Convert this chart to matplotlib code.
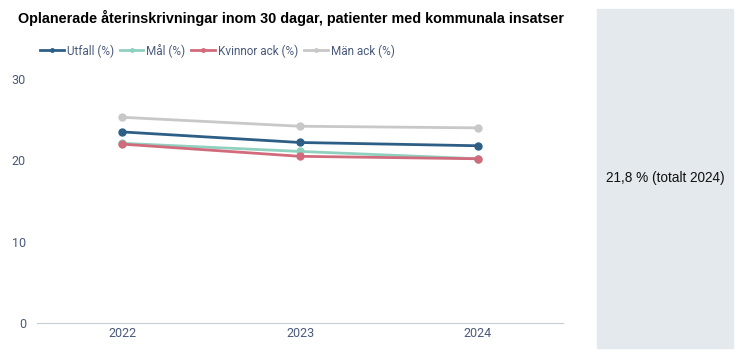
import matplotlib.pyplot as plt
from matplotlib.patches import Rectangle

# data
years = ['2022', '2023', '2024']
utfall = [23.5, 22.2, 21.8]
mal = [22.1, 21.1, 20.2]
kvinnor = [22.0, 20.5, 20.2]
man = [25.3, 24.2, 24.0]
total_text = '21,8 % (totalt 2024)'

series = [
    ('Utfall (%)', utfall, '#2d5f86'),
    ('Mål (%)', mal, '#8fd0bf'),
    ('Kvinnor ack (%)', kvinnor, '#d16b7c'),
    ('Män ack (%)', man, '#c8c8c8'),
]
tick_col = '#4a5a7a'

fig = plt.figure(figsize=(7.4, 3.54), dpi=100)
ax = fig.add_axes([0.05, 0.0876, 0.711, 0.689])

x = range(len(years))
# draw back to front so Utfall ends on top
for name, vals, col in [series[3], series[1], series[2], series[0]]:
    ax.plot(x, vals, color=col, lw=2, marker='o', ms=5, label=name)

ax.set_xlim(-0.48, 2.48)
ax.set_ylim(0, 30)
ax.set_yticks([0, 10, 20, 30])
ax.set_xticks(list(x))
ax.set_xticklabels(years)
for s in ['top', 'right', 'left']:
    ax.spines[s].set_visible(False)
ax.spines['bottom'].set_color('#c5ccd6')
ax.tick_params(axis='y', length=0, pad=8, labelcolor=tick_col, labelsize=9)
ax.tick_params(axis='x', length=0, pad=3, labelcolor=tick_col, labelsize=9)
for t in ax.get_xticklabels() + ax.get_yticklabels():
    t.set_fontfamily('Roboto')

fig.text(0.025, 0.95, 'Oplanerade återinskrivningar inom 30 dagar, patienter med kommunala insatser',
         fontsize=10.35, fontweight='bold', family='Liberation Sans', va='center')

h, l = ax.get_legend_handles_labels()
order = [l.index(s[0]) for s in series]
leg = fig.legend([h[i] for i in order], [l[i] for i in order], loc='center left',
                 bbox_to_anchor=(0.04, 0.857), ncol=4, frameon=False,
                 prop={'family': 'Roboto', 'size': 8.5}, handlelength=2.0,
                 handletextpad=0.25, columnspacing=0.5, markerscale=0.5)
for t in leg.get_texts():
    t.set_color(tick_col)

# side panel
fig.patches.append(Rectangle((597 / 740, 1 - 348 / 354), 136 / 740, 339 / 354,
                             transform=fig.transFigure, color='#e4e9ee', zorder=0))
fig.text(665 / 740, 1 - 178 / 354, total_text, ha='center', va='center',
         fontsize=9.8, family='Liberation Sans', color='#111111')

fig.savefig('out.png', dpi=100)
